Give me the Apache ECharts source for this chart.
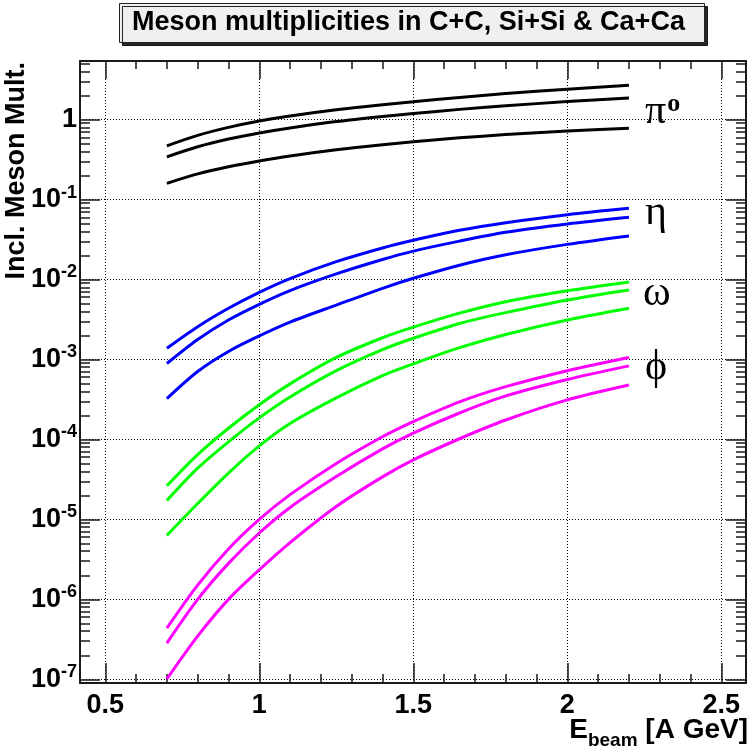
<!DOCTYPE html>
<html>
<head>
<meta charset="utf-8">
<script src="https://cdn.jsdelivr.net/npm/echarts@6/dist/echarts.min.js"></script>
<style>html,body{margin:0;padding:0;background:#fff;}#c{width:749px;height:750px;}</style>
</head>
<body>
<div id="c"></div>
<script>
// Beam energy [A GeV]
const xs = [0.7, 0.8, 0.9, 1.0, 1.1, 1.25, 1.4, 1.5, 1.65, 1.8, 2.0, 2.2];

// pi0
const pi0_CaCa = [0.470, 0.635, 0.799, 0.960, 1.109, 1.326, 1.536, 1.669, 1.891, 2.111, 2.401, 2.695];
const pi0_SiSi = [0.342, 0.457, 0.571, 0.680, 0.785, 0.943, 1.093, 1.190, 1.341, 1.488, 1.677, 1.856];
const pi0_CC   = [0.1594, 0.2092, 0.2573, 0.3038, 0.3508, 0.4195, 0.4858, 0.528, 0.591, 0.649, 0.722, 0.777];
// eta
const eta_CaCa = [1.38e-3, 2.57e-3, 4.37e-3, 6.92e-3, 0.01028, 0.0167, 0.02477, 0.0309, 0.0412, 0.0513, 0.0646, 0.0776];
const eta_SiSi = [8.91e-4, 1.78e-3, 3.12e-3, 4.90e-3, 7.28e-3, 0.01175, 0.01778, 0.02265, 0.0302, 0.0389, 0.0494, 0.0599];
const eta_CC   = [3.24e-4, 7.08e-4, 1.26e-3, 1.97e-3, 2.93e-3, 4.79e-3, 7.76e-3, 0.01035, 0.0151, 0.0204, 0.0275, 0.0350];
// omega
const omega_CaCa = [2.63e-5, 6.46e-5, 1.38e-4, 2.72e-4, 4.95e-4, 1.06e-3, 1.87e-3, 2.54e-3, 3.80e-3, 5.28e-3, 7.24e-3, 9.33e-3];
const omega_SiSi = [1.72e-5, 4.37e-5, 9.33e-5, 1.86e-4, 3.39e-4, 7.24e-4, 1.326e-3, 1.84e-3, 2.82e-3, 3.85e-3, 5.55e-3, 7.41e-3];
const omega_CC   = [6.31e-6, 1.58e-5, 3.80e-5, 8.32e-5, 1.585e-4, 3.31e-4, 6.27e-4, 8.81e-4, 1.404e-3, 2.053e-3, 3.11e-3, 4.37e-3];
// phi
const phi_CaCa = [4.37e-7, 1.51e-6, 4.27e-6, 1.00e-5, 2.04e-5, 5.01e-5, 1.08e-4, 1.67e-4, 2.95e-4, 4.57e-4, 7.24e-4, 1.06e-3];
const phi_SiSi = [2.84e-7, 1.00e-6, 2.82e-6, 6.76e-6, 1.41e-5, 3.43e-5, 7.62e-5, 1.20e-4, 2.14e-4, 3.50e-4, 5.62e-4, 8.32e-4];
const phi_CC   = [1.01e-7, 3.47e-7, 1.00e-6, 2.34e-6, 5.13e-6, 1.45e-5, 3.40e-5, 5.55e-5, 1.02e-4, 1.75e-4, 3.12e-4, 4.79e-4];

// Axis ticks
const xMajor = [0.5, 1.0, 1.5, 2.0, 2.5];
const xMinor = [0.6, 0.7, 0.8, 0.9, 1.1, 1.2, 1.3, 1.4, 1.6, 1.7, 1.8, 1.9, 2.1, 2.2, 2.3, 2.4, 2.5];
const yMajor = [1e-7, 1e-6, 1e-5, 1e-4, 1e-3, 1e-2, 1e-1, 1];
const yMinorMult = [2, 3, 4, 5, 6, 7, 8, 9];

const titleText = 'Meson multiplicities in C+C, Si+Si & Ca+Ca';
const yTitle = 'Incl. Meson Mult.';

const yMinor = [];
yMajor.forEach(d => yMinorMult.forEach(m => yMinor.push(+(d * m).toPrecision(3))));

const FONT = 'Liberation Sans';
const X_MIN = 0.418, X_MAX = 2.58, Y_MIN = 9.0e-8, Y_MAX = 5.4;

function pairs(ys) { return xs.map((x, i) => [x, ys[i]]); }

const groups = [
  { color: '#000000', sets: [pi0_CaCa, pi0_SiSi, pi0_CC], name: 'pi0' },
  { color: '#0000ff', sets: [eta_CaCa, eta_SiSi, eta_CC], name: 'eta' },
  { color: '#00ff00', sets: [omega_CaCa, omega_SiSi, omega_CC], name: 'omega' },
  { color: '#ff00ff', sets: [phi_CaCa, phi_SiSi, phi_CC], name: 'phi' }
];
const sysNames = ['Ca+Ca', 'Si+Si', 'C+C'];

const series = [];
groups.forEach(g => g.sets.forEach((s, i) => {
  series.push({
    name: g.name + ' ' + sysNames[i],
    type: 'line',
    xAxisIndex: 0, yAxisIndex: 0,
    data: pairs(s),
    smooth: 0.3,
    showSymbol: false,
    symbol: 'none',
    lineStyle: { color: g.color, width: 3 },
    silent: true,
    z: 5
  });
}));

const lineStyle = { color: '#1a1a1a', width: 2 };
function xAx(pos, ticks, len, withLabel, withSplit, showLine) {
  return {
    type: 'value', position: pos, min: X_MIN, max: X_MAX,
    axisLine: { show: showLine, lineStyle: lineStyle, onZero: false },
    axisTick: { show: true, inside: true, length: len, customValues: ticks, lineStyle: { color: '#1a1a1a', width: 1.5 } },
    axisLabel: withLabel ? {
      show: true, customValues: ticks, margin: 9,
      fontSize: 27, fontWeight: 'bold', fontFamily: FONT, color: '#000',
      formatter: v => String(+v.toFixed(1))
    } : { show: false },
    splitLine: withSplit ? { show: true, lineStyle: { color: '#000', type: [1, 2], width: 1 } } : { show: false },
    minorTick: { show: false }, minorSplitLine: { show: false }
  };
}
function yAx(pos, ticks, len, withLabel, withSplit, showLine) {
  return {
    type: 'log', logBase: 10, position: pos, min: Y_MIN, max: Y_MAX,
    axisLine: { show: showLine, lineStyle: lineStyle, onZero: false },
    axisTick: { show: true, inside: true, length: len, customValues: ticks, lineStyle: { color: '#1a1a1a', width: 1.5 } },
    axisLabel: withLabel ? {
      show: true, customValues: ticks, margin: 3,
      fontSize: 27, fontWeight: 'bold', fontFamily: FONT, color: '#000',
      formatter: function (v) {
        const e = Math.round(Math.log10(v));
        if (e === 0) return '{b|1}';
        return '{b|10}{s|' + e + '}';
      },
      rich: {
        b: { fontSize: 27, fontWeight: 'bold', fontFamily: FONT, color: '#000' },
        s: { fontSize: 18, fontWeight: 'bold', fontFamily: FONT, color: '#000', padding: [0, 0, 14, 0] }
      }
    } : { show: false },
    splitLine: withSplit ? { show: true, lineStyle: { color: '#000', type: [1, 2], width: 1 } } : { show: false },
    minorTick: { show: false }, minorSplitLine: { show: false }
  };
}

const option = {
  backgroundColor: '#ffffff',
  animation: false,
  title: {
    text: titleText,
    left: 119, top: 3,
    padding: [6, 20, 6, 13],
    backgroundColor: '#f0f0f0',
    borderColor: '#222', borderWidth: 1,
    shadowColor: 'rgba(0,0,0,0.85)', shadowOffsetX: 3, shadowOffsetY: 3, shadowBlur: 0,
    textStyle: { fontSize: 27, fontWeight: 'bold', fontFamily: FONT, color: '#000', lineHeight: 28 }
  },
  grid: { left: 80, right: 3, top: 61, bottom: 67, containLabel: false, outerBoundsMode: 'none' },
  xAxis: [
    xAx('bottom', xMajor, 20, true, true, true),
    xAx('bottom', xMinor, 9, false, false, false),
    xAx('top', xMajor, 18, false, false, true),
    xAx('top', xMinor, 8, false, false, false)
  ],
  yAxis: [
    yAx('left', yMajor, 20, true, true, true),
    yAx('left', yMinor, 10, false, false, false),
    yAx('right', yMajor, 20, false, false, true),
    yAx('right', yMinor, 10, false, false, false)
  ],
  series: series,
  graphic: [
    {
      type: 'text', x: 17, y: 62, rotation: Math.PI / 2, z: 10,
      style: { text: yTitle, fontSize: 27, fontWeight: 'bold', fontFamily: FONT, fill: '#000',
               textAlign: 'right', textVerticalAlign: 'middle', align: 'right', verticalAlign: 'middle' }
    },
    {
      type: 'text', x: 748, y: 750, z: 10,
      style: {
        text: '{e|E}{sub|beam}{e| [A GeV]}',
        textAlign: 'right', textVerticalAlign: 'bottom', align: 'right', verticalAlign: 'bottom',
        rich: {
          e: { fontSize: 28, fontWeight: 'bold', fontFamily: FONT, fill: '#000', color: '#000', verticalAlign: 'bottom', padding: [0, 0, 6, 0] },
          sub: { fontSize: 19, fontWeight: 'bold', fontFamily: FONT, fill: '#000', color: '#000', verticalAlign: 'bottom', padding: [0, 0, 0, 0] }
        }
      }
    },
    { type: 'text', x: 645, y: 112, z: 10,
      style: { text: '{g|π}{o|o}', textAlign: 'left', textVerticalAlign: 'middle', align: 'left', verticalAlign: 'middle',
        rich: { g: { fontSize: 42, fontFamily: 'Liberation Serif', fill: '#000', color: '#000' },
                o: { fontSize: 26, fontWeight: 'bold', fontFamily: 'Liberation Serif', fill: '#000', color: '#000', padding: [0, 0, 16, 1] } } } },
    { type: 'text', x: 645, y: 213, z: 10,
      style: { text: 'η', fontSize: 42, fontFamily: 'Liberation Serif', fill: '#000', textAlign: 'left', textVerticalAlign: 'middle', align: 'left', verticalAlign: 'middle' } },
    { type: 'text', x: 643, y: 294, z: 10,
      style: { text: 'ω', fontSize: 42, fontFamily: 'Liberation Serif', fill: '#000', textAlign: 'left', textVerticalAlign: 'middle', align: 'left', verticalAlign: 'middle' } },
    { type: 'text', x: 645, y: 368, z: 10,
      style: { text: 'ϕ', fontSize: 42, fontFamily: 'Liberation Serif', fill: '#000', textAlign: 'left', textVerticalAlign: 'middle', align: 'left', verticalAlign: 'middle' } }
  ]
};

const chart = echarts.init(document.getElementById('c'), null, { renderer: 'canvas' });
chart.setOption(option);
</script>
</body>
</html>
